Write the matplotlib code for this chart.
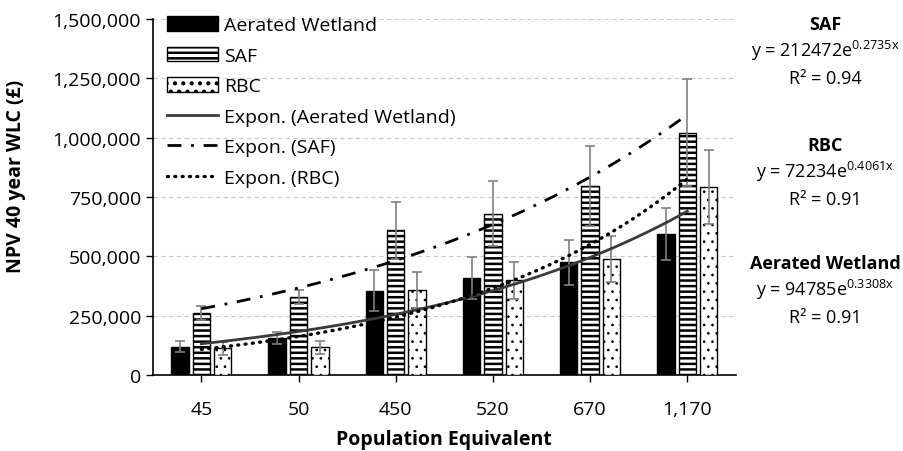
import numpy as np
import matplotlib
matplotlib.use("Agg")
import matplotlib.pyplot as plt
from matplotlib.patches import Patch
from matplotlib.lines import Line2D

# ------------------------------------------
# Data
# ------------------------------------------
categories = ["45", "50", "450", "520", "670", "1,170"]

wetland = [120000, 155000, 355000, 410000, 475000, 595000]
wetland_err = [23000, 25000, 86000, 88000, 95000, 110000]

saf = [260000, 330000, 610000, 680000, 795000, 1020000]
saf_err = [30000, 30000, 120000, 137000, 168000, 225000]

rbc = [112000, 117000, 357000, 400000, 490000, 792000]
rbc_err = [28000, 27000, 75000, 78000, 97000, 155000]

# exponential trendlines y = a * exp(b * x), x = 1..6
fit_names = ["SAF", "RBC", "Aerated Wetland"]
fit_a = [212472, 72234, 94785]
fit_b = [0.2735, 0.4061, 0.3308]
fit_r2 = ["0.94", "0.91", "0.91"]

# ------------------------------------------
# Style
# ------------------------------------------
plt.rcParams['font.family'] = ['Open Sans', 'DejaVu Sans']
plt.rcParams['mathtext.default'] = 'regular'
plt.rcParams['hatch.linewidth'] = 1.8
FS = 14


def thin_hatch(patch, lw=0.7):
    # per-artist hatch width where available
    if hasattr(patch, 'set_hatch_linewidth'):
        patch.set_hatch_linewidth(lw)


fig = plt.figure(figsize=(9.04, 4.52), dpi=100)
ax = fig.add_axes([0.169, 0.168, 0.645, 0.788])

x = np.arange(len(categories))
w = 0.18
off = 0.22
err_kw = dict(ecolor='#808080', elinewidth=1.2, capsize=3.5, capthick=1.2)

ax.bar(x - off, wetland, w, color='black', edgecolor='black', linewidth=1,
       yerr=wetland_err, error_kw=err_kw, zorder=3)
ax.bar(x, saf, w, color='white', edgecolor='black', linewidth=1, hatch='---',
       yerr=saf_err, error_kw=err_kw, zorder=3)
rbc_bars = ax.bar(x + off, rbc, w, color='white', edgecolor='black', linewidth=1,
                  hatch='..', yerr=rbc_err, error_kw=err_kw, zorder=3)
for p in rbc_bars:
    thin_hatch(p)

# trendlines
xs = np.linspace(1, 6, 100)
fits = dict(zip(fit_names, zip(fit_a, fit_b)))
a, b = fits["Aerated Wetland"]
ax.plot(xs - 1, a * np.exp(b * xs), color='#3a3a3a', lw=2.0, zorder=4)
a, b = fits["SAF"]
ax.plot(xs - 1, a * np.exp(b * xs), color='black', lw=2.0,
        dashes=(5, 3.5, 1, 3.5), zorder=4)
a, b = fits["RBC"]
ax.plot(xs - 1, a * np.exp(b * xs), color='black', lw=2.4,
        dashes=(0.3, 1.9), dash_capstyle='round', zorder=4)

# axes
ax.set_ylim(0, 1500000)
ax.set_xlim(-0.5, len(categories) - 0.5)
ax.set_yticks(np.arange(0, 1500001, 250000))
ax.yaxis.set_major_formatter(matplotlib.ticker.FuncFormatter(lambda v, p: f"{int(v):,}"))
ax.set_xticks(x)
ax.set_xticklabels(categories)
ax.tick_params(axis='both', labelsize=FS, length=5, color='black', width=1)
ax.tick_params(axis='x', pad=13)
ax.grid(axis='y', color='#c8c8c8', linestyle=(0, (4, 3)), lw=0.8, zorder=0)
for s in ['top', 'right']:
    ax.spines[s].set_visible(False)
for s in ['left', 'bottom']:
    ax.spines[s].set_linewidth(1.2)

ax.set_ylabel("NPV 40 year WLC (£)", fontsize=FS, fontweight='bold')
ax.yaxis.set_label_coords(-0.218, 0.56)
ax.set_xlabel("Population Equivalent", fontsize=FS, fontweight='bold', labelpad=8)

# legend
rbc_handle = Patch(facecolor='white', edgecolor='black', hatch='..')
thin_hatch(rbc_handle)
handles = [
    Patch(facecolor='black', edgecolor='black'),
    Patch(facecolor='white', edgecolor='black', hatch='---'),
    rbc_handle,
    Line2D([], [], color='#3a3a3a', lw=2.0),
    Line2D([], [], color='black', lw=2.0, dashes=(5, 3.5, 1, 3.5)),
    Line2D([], [], color='black', lw=2.4, dashes=(0.3, 1.9), dash_capstyle='round'),
]
labels = ["Aerated Wetland", "SAF", "RBC", "Expon. (Aerated Wetland)",
          "Expon. (SAF)", "Expon. (RBC)"]
ax.legend(handles, labels, loc='upper left', bbox_to_anchor=(0.005, 1.04),
          frameon=False, fontsize=FS, handlelength=2.6, handleheight=0.75,
          handletextpad=0.3, labelspacing=0.64, borderaxespad=0.2)

# trendline equations at the right
EQ_FS = 13
eq_y = {"SAF": 0.944, "RBC": 0.676, "Aerated Wetland": 0.415}
for name, a, b, r2 in zip(fit_names, fit_a, fit_b, fit_r2):
    y0 = eq_y[name]
    fig.text(0.913, y0, name, ha='center', va='center', fontsize=EQ_FS, fontweight='bold')
    fig.text(0.913, y0 - 0.057, f"y = {a}e$^{{{b}x}}$", ha='center', va='center', fontsize=EQ_FS)
    fig.text(0.913, y0 - 0.118, f"R² = {r2}", ha='center', va='center', fontsize=EQ_FS)

fig.savefig("out.png", dpi=100, facecolor='white')
